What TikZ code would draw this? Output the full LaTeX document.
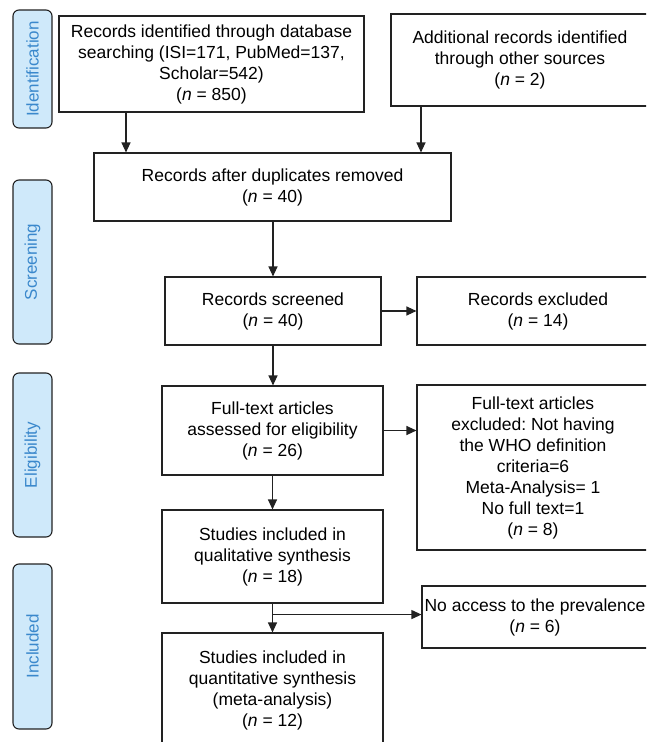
\documentclass[tikz,border=0pt]{standalone}
\usepackage{fontspec}
\setmainfont{Liberation Sans}
\usetikzlibrary{arrows.meta,calc}
\definecolor{stagefill}{HTML}{CFE9FA}
\definecolor{stageblue}{HTML}{3A88CC}
\definecolor{linec}{HTML}{222222}
\frenchspacing
\begin{document}
\begin{tikzpicture}[x=1pt,y=-1pt,
  box/.style={draw=linec, line width=1.1pt, align=center, inner sep=0pt,
    font=\fontsize{17.5}{21}\selectfont},
  stage/.style={draw=linec, fill=stagefill, rounded corners=6pt, line width=1.1pt,
    text=stageblue, inner sep=0pt, font=\fontsize{17}{20}\selectfont, rotate=90,
    minimum height=39pt},
  arr/.style={draw=linec, line width=1.1pt, -{Triangle[length=10pt,width=9pt]}}]
\useasboundingbox (0,0) rectangle (646,742);
\clip (0,0) rectangle (646,742);

% stage labels
\node[stage, minimum width=118pt] (s1) at (32.5,69) {Identification};
\node[stage, minimum width=164pt] (s2) at (32.5,262) {Screening};
\node[stage, minimum width=164pt] (s3) at (32.5,455) {Eligibility};
\node[stage, minimum width=165pt] (s4) at (32.5,646.5) {Included};

% boxes
\node[box, minimum width=305pt, minimum height=96pt] (A) at (211.5,64)
  {Records identified through database\\ searching (ISI=171, PubMed=137,\\ Scholar=542)\\ (\textit{n} = 850)};
\node[box, minimum width=258pt, minimum height=92pt] (B) at (520,60)
  {Additional records identified\\ through other sources\\ (\textit{n} = 2)};
\node[box, minimum width=357pt, minimum height=68pt] (C) at (272.5,187)
  {Records after duplicates removed\\ (\textit{n} = 40)};
\node[box, minimum width=216pt, minimum height=68pt] (D) at (273,311)
  {Records screened\\ (\textit{n} = 40)};
\node[box, minimum width=242pt, minimum height=68pt] (E) at (538,311)
  {Records excluded\\ (\textit{n} = 14)};
\node[box, minimum width=221pt, minimum height=89pt] (F) at (272.5,430.5)
  {Full-text articles\\ assessed for eligibility\\ (\textit{n} = 26)};
\node[box, minimum width=232pt, minimum height=165pt] (J) at (533,467.5)
  {Full-text articles\\ excluded: Not having\\ the WHO definition\\ criteria=6\\ Meta-Analysis= 1\\ No full text=1\\ (\textit{n} = 8)};
\node[box, minimum width=221pt, minimum height=93pt] (G) at (272.5,556.5)
  {Studies included in\\ qualitative synthesis\\ (\textit{n} = 18)};
\node[box, minimum width=226pt, minimum height=62pt] (H) at (535,617)
  {No access to the prevalence\\ (\textit{n} = 6)};
\node[box, minimum width=221pt, minimum height=115pt] (I) at (272.5,690.5)
  {Studies included in\\ quantitative synthesis\\ (meta-analysis)\\ (\textit{n} = 12)};

% connectors
\coordinate (ax) at (126,0);
\coordinate (bx) at (421,0);
\draw[arr] (A.south -| ax) -- (C.north -| ax);
\draw[arr] (B.south -| bx) -- (C.north -| bx);
\draw[arr] (C.south -| D.north) -- (D.north);
\draw[arr] (D.east) -- (E.west);
\draw[arr] (D.south) -- (D.south |- F.north);
\draw[arr] (F.east) -- (F.east -| J.west);
\draw[arr] (F.south) -- (G.north);
\draw[arr] (G.south) -- (I.north);
\coordinate (br) at ($(G.south)+(0,11)$);
\draw[arr] (br) -- (br -| H.west);
\end{tikzpicture}
\end{document}
